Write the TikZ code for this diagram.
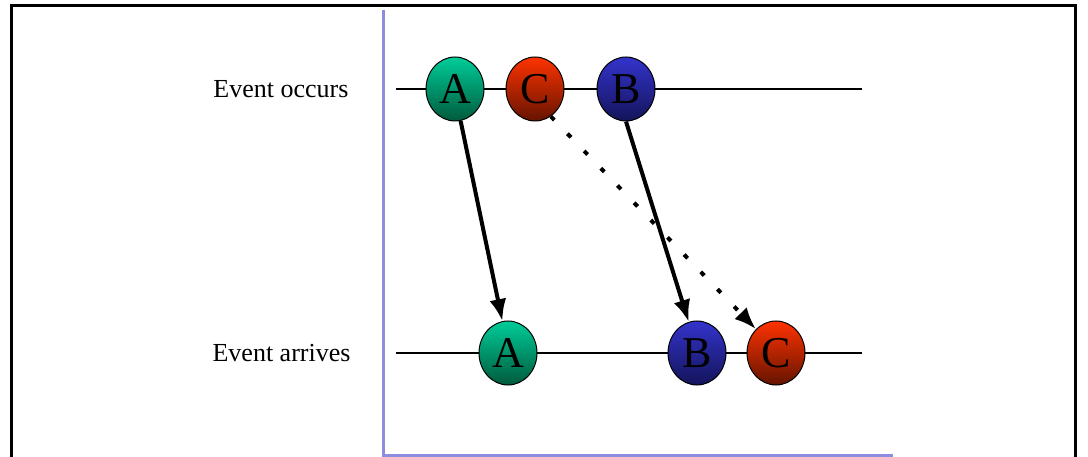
\documentclass[tikz,border=0pt]{standalone}
\usepackage{fontspec}
\setmainfont{Liberation Serif}
\usetikzlibrary{positioning,arrows.meta,shapes.geometric}

\definecolor{evgreen}{RGB}{0,204,153}
\definecolor{evgreendk}{RGB}{0,90,60}
\definecolor{evred}{RGB}{255,51,0}
\definecolor{evreddk}{RGB}{100,20,0}
\definecolor{evblue}{RGB}{51,51,204}
\definecolor{evbluedk}{RGB}{20,20,90}
\definecolor{axisblue}{RGB}{140,140,225}

\begin{document}
\begin{tikzpicture}[x=1pt, y=-1pt,
  event/.style={ellipse, draw, line width=1pt, minimum width=58pt, minimum height=64pt,
    inner sep=0pt, font=\fontsize{44}{44}\selectfont},
  aevt/.style={event, top color=evgreen, bottom color=evgreendk},
  bevt/.style={event, top color=evblue, bottom color=evbluedk},
  cevt/.style={event, top color=evred, bottom color=evreddk},
  lbl/.style={anchor=east, font=\fontsize{26}{26}\selectfont},
  arr/.style={line width=4pt, -{Latex[length=22pt, width=17pt]}},
  darr/.style={arr, dash pattern=on 5pt off 19pt}
]
  \useasboundingbox (0,0) rectangle (1088,457);
  % Frame and axes
  \draw[line width=3pt] (11,458) -- (11,6) -- (1075,6) -- (1075,458);
  \draw[axisblue, line width=3pt] (383,10) -- (383,455) -- (893,455);
  % Time lines
  \draw[line width=1.2pt] (396,89) -- (862,89);
  \draw[line width=1.2pt] (396,353) -- (862,353);
  % Labels
  \node[lbl] (occ) at (352,89) {Event occurs};
  \node[lbl] (arv) at (354,353) {Event arrives};
  % Top row
  \node[aevt] (a1) at (455,89) {A};
  \node[cevt] (c1) at (535,89) {C};
  \node[bevt] (b1) at (626,89) {B};
  % Bottom row
  \node[aevt] (a2) at (508,353) {A};
  \node[bevt] (b2) at (697,353) {B};
  \node[cevt] (c2) at (776,353) {C};

  \draw[arr] (a1.-80) -- (a2.100);
  \draw[arr] (b1.-90) -- (b2.105);
  \draw[darr] (c1.-60) -- (c2.130);
\end{tikzpicture}
\end{document}
